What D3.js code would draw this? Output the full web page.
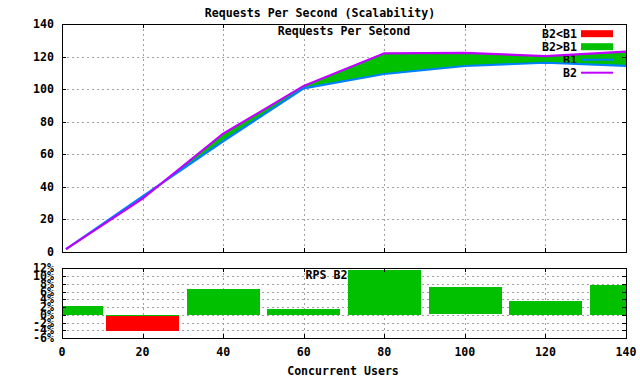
<!DOCTYPE html>
<html>
<head>
<meta charset="utf-8">
<script src="https://cdn.jsdelivr.net/npm/d3@7"></script>
<style>
body { margin: 0; background: #fff; }
svg text { font-family: "DejaVu Sans Mono", monospace; font-weight: bold; font-size: 11.6px; fill: #000; }
</style>
</head>
<body>
<script>
// concurrent users and requests per second
const users = [1, 20, 40, 60, 80, 100, 120, 140]
const b1 = [1.8, 34.2, 68, 100.5, 109.3, 114.2, 116.2, 114.3]
const b2 = [1.8, 32.8, 72.6, 102, 122, 122.3, 120.3, 123]
// rps difference B2 vs B1 in percent
const pct = [2.2, -4.1, 6.7, 1.5, 11.6, 7.1, 3.5, 7.7]

const xTicks = [0, 20, 40, 60, 80, 100, 120, 140]
const yTicksTop = [0, 20, 40, 60, 80, 100, 120, 140]
const yTicksBot = [-6, -4, -2, 0, 2, 4, 6, 8, 10, 12]
const keyItems = ['B2<B1', 'B2>B1', 'B1', 'B2']

const width = 640, height = 380;
const left = 62, right = 626;

const svg = d3.select('body').append('svg')
.attr('width', width)
.attr('height', height)

const x = d3.scaleLinear().domain([0, 140]).range([left, right])
const yTop = d3.scaleLinear().domain([0, 140]).range([252, 24])
const yBot = d3.scaleLinear().domain([-6, 12]).range([338, 268.3])

const data = users.map((u, i) => ({u: u, b1: b1[i], b2: b2[i]}))

//==================GRID==================
const grid = (g, yScale, yt, y0, y1) => {
	g.selectAll('.gx').data(xTicks.slice(1, -1)).enter().append('line')
	.attr('x1', d => Math.round(x(d)) + 0.5).attr('x2', d => Math.round(x(d)) + 0.5)
	.attr('y1', y0).attr('y2', y1)
	.attr('stroke', '#a0a0a0').attr('stroke-dasharray', '2,3')

	g.selectAll('.gy').data(yt).enter().append('line')
	.attr('x1', left).attr('x2', right)
	.attr('y1', d => Math.round(yScale(d)) + 0.5).attr('y2', d => Math.round(yScale(d)) + 0.5)
	.attr('stroke', '#a0a0a0').attr('stroke-dasharray', '2,3')
}

grid(svg.append('g'), yTop, yTicksTop.slice(1, -1), 24, 252)
grid(svg.append('g'), yBot, yTicksBot.slice(1, -1), 268, 338)

//==================TITLES==================
svg.append('text').attr('x', 320).attr('y', 16.5).attr('text-anchor', 'middle')
.text('Requests Per Second (Scalability)')

svg.append('text').attr('x', 344).attr('y', 35).attr('text-anchor', 'middle')
.text('Requests Per Second')

svg.append('text').attr('x', 344).attr('y', 278.5).attr('text-anchor', 'middle')
.text('RPS B2/B1 %')

svg.append('text').attr('x', 343).attr('y', 375).attr('text-anchor', 'middle')
.text('Concurrent Users')

//==================KEY==================
const keyY = i => 33.7 + i * 13

const keyLabel = i => svg.append('text')
.attr('x', 577).attr('y', keyY(i) + 4)
.attr('text-anchor', 'end')
.text(keyItems[i])

//==================TOP PLOT==================
const defs = svg.append('defs')

defs.append('clipPath').attr('id', 'clip-top')
.append('rect').attr('x', left).attr('y', 24).attr('width', right - left).attr('height', 228)

defs.append('clipPath').attr('id', 'clip-bot')
.append('rect').attr('x', left).attr('y', 268).attr('width', right - left).attr('height', 70)

// regions above and below the B1 line
defs.append('clipPath').attr('id', 'above-b1')
.append('path')
.attr('d', d3.area().x(d => x(d.u)).y0(0).y1(d => yTop(d.b1))(data))

defs.append('clipPath').attr('id', 'below-b1')
.append('path')
.attr('d', d3.area().x(d => x(d.u)).y0(height).y1(d => yTop(d.b1))(data))

const between = d3.area().x(d => x(d.u)).y0(d => yTop(d.b1)).y1(d => yTop(d.b2))

const topPlot = svg.append('g').attr('clip-path', 'url(#clip-top)')

// gnuplot order: each key entry drawn just before its own plot
keyLabel(0)
svg.append('rect').attr('x', 581).attr('y', keyY(0) - 3.5).attr('width', 32).attr('height', 7).attr('fill', '#ff0000')
topPlot.append('g').attr('clip-path', 'url(#below-b1)')
.append('path').attr('d', between(data)).attr('fill', '#ff0000')

keyLabel(1)
svg.append('rect').attr('x', 581).attr('y', keyY(1) - 3.5).attr('width', 32).attr('height', 7).attr('fill', '#00c000')
topPlot.append('g').attr('clip-path', 'url(#above-b1)')
.append('path').attr('d', between(data)).attr('fill', '#00c000')

keyLabel(2)
svg.append('line').attr('x1', 581).attr('x2', 613).attr('y1', keyY(2)).attr('y2', keyY(2))
.attr('stroke', '#0080ff').attr('stroke-width', 2)
svg.append('path')
.attr('clip-path', 'url(#clip-top)')
.attr('d', d3.line().x(d => x(d.u)).y(d => yTop(d.b1))(data))
.attr('fill', 'none').attr('stroke', '#0080ff').attr('stroke-width', 2.2)

keyLabel(3)
svg.append('line').attr('x1', 581).attr('x2', 613).attr('y1', keyY(3)).attr('y2', keyY(3))
.attr('stroke', '#c000ff').attr('stroke-width', 2)
svg.append('path')
.attr('clip-path', 'url(#clip-top)')
.attr('d', d3.line().x(d => x(d.u)).y(d => yTop(d.b2))(data))
.attr('fill', 'none').attr('stroke', '#c000ff').attr('stroke-width', 2.2)

//==================BOTTOM PLOT==================
const bars = svg.append('g').attr('clip-path', 'url(#clip-bot)')
.attr('shape-rendering', 'crispEdges')

const bw = x(18) - x(0);

users.forEach((u, i) => {
	let v = pct[i];
	// green box for gains, red box for losses (a flat green box sits on the red one)
	bars.append('rect')
	.attr('x', Math.round(x(u) - bw / 2))
	.attr('width', Math.round(bw))
	.attr('y', Math.round(yBot(Math.max(v, 0))))
	.attr('height', Math.max(1, Math.round(yBot(0) - yBot(Math.max(v, 0)))))
	.attr('fill', '#00c000')

	if(v < 0)
	{
		bars.append('rect')
		.attr('x', Math.round(x(u) - bw / 2))
		.attr('width', Math.round(bw))
		.attr('y', Math.round(yBot(0)) + 1)
		.attr('height', Math.round(yBot(v) - yBot(0)) - 1)
		.attr('fill', '#ff0000')
	}
})

//==================AXES==================
const frame = (y0, y1) => {
	svg.append('rect')
	.attr('x', left + 0.5).attr('y', y0 + 0.5)
	.attr('width', right - left).attr('height', y1 - y0)
	.attr('fill', 'none').attr('stroke', '#000')
}
frame(24, 252)
frame(268, 338)

const ticks = (yScale, yt, y0, y1, fmt) => {
	const g = svg.append('g').attr('stroke', '#000')
	xTicks.slice(1, -1).forEach(t => {
		let px = Math.round(x(t)) + 0.5;
		g.append('line').attr('x1', px).attr('x2', px).attr('y1', y1).attr('y2', y1 - 4)
		g.append('line').attr('x1', px).attr('x2', px).attr('y1', y0).attr('y2', y0 + 4)
	})
	yt.forEach(t => {
		let py = Math.round(yScale(t)) + 0.5;
		g.append('line').attr('x1', left).attr('x2', left + 4).attr('y1', py).attr('y2', py)
		g.append('line').attr('x1', right).attr('x2', right - 4).attr('y1', py).attr('y2', py)
	})
	svg.selectAll(null).data(yt).enter().append('text')
	.attr('x', 54).attr('y', d => yScale(d) + 4)
	.attr('text-anchor', 'end')
	.text(fmt)
}

ticks(yTop, yTicksTop, 24, 252, d => d)
ticks(yBot, yTicksBot, 268, 338, d => d + '%')

svg.selectAll('.xlab').data(xTicks).enter().append('text')
.attr('x', d => x(d)).attr('y', 356)
.attr('text-anchor', 'middle')
.text(d => d)
</script>
</body>
</html>
